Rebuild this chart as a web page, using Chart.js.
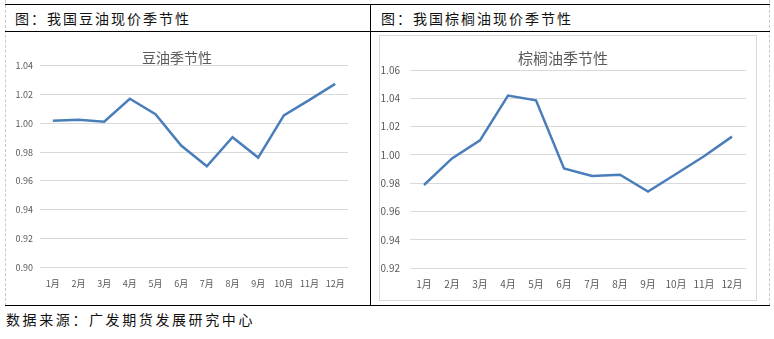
<!DOCTYPE html>
<html>
<head>
<meta charset="utf-8">
<script src="https://cdn.jsdelivr.net/npm/chart.js@4.4.1/dist/chart.umd.min.js"></script>
<style>
  body { margin: 0; background: #fff; width: 774px; height: 339px; position: relative; overflow: hidden;
         font-family: "Noto Sans CJK SC", sans-serif; }
  .abs { position: absolute; }
  .hline { position: absolute; height: 0; border-top: 1.5px solid #000; }
  .vline { position: absolute; width: 0; border-left: 1.5px solid #000; }
  .dash { position: absolute; width: 0; border-left: 1px dashed #c8c8c8; }
  .head { position: absolute; font-size: 14px; letter-spacing: 2px; color: #111; line-height: 14px; }
</style>
</head>
<body>
<div class="dash" style="left:5px; top:0; height:306px;"></div>
<div class="dash" style="left:769px; top:0; height:306px;"></div>
<div class="hline" style="left:5px; top:4px; width:765px;"></div>
<div class="hline" style="left:5px; top:31px; width:765px;"></div>
<div class="hline" style="left:5px; top:305px; width:765px;"></div>
<div class="vline" style="left:370px; top:4px; height:302px;"></div>

<div class="head" style="left:15px; top:11px;">图：我国豆油现价季节性</div>
<div class="head" style="left:381px; top:11px;">图：我国棕榈油现价季节性</div>
<div class="head" style="left:6px; top:312px; letter-spacing:2.6px;">数据来源：广发期货发展研究中心</div>

<div class="abs" style="left:6px; top:33px; width:363px; height:272px;">
  <canvas id="soyChart"></canvas>
</div>
<div class="abs" style="left:379px; top:35px; width:376px; height:264px; border:1px solid #d9d9d9;">
  <canvas id="palmChart"></canvas>
</div>

<script>
const months = ["1月", "2月", "3月", "4月", "5月", "6月", "7月", "8月", "9月", "10月", "11月", "12月"];
const soyValues = [1.0018, 1.0025, 1.0011, 1.0171, 1.0064, 0.9846, 0.9702, 0.9904, 0.9762, 1.0055, 1.0163, 1.0274];
const palmValues = [0.9787, 0.9975, 1.0103, 1.0419, 1.0386, 0.9903, 0.9850, 0.9860, 0.9740, 0.9865, 0.9990, 1.0129];
const soyRange = [0.90, 1.04];
const palmRange = [0.92, 1.06];

function seasonChart(id, title, values, range, opt) {
  return new Chart(document.getElementById(id), {
    type: 'line',
    data: {
      labels: months,
      datasets: [{
        data: values,
        borderColor: '#4a7ebb',
        borderWidth: 2.5,
        pointRadius: 0,
        tension: 0
      }]
    },
    options: {
      responsive: true,
      maintainAspectRatio: false,
      animation: false,
      layout: { padding: { left: 0, right: opt.right, top: 0, bottom: opt.bottom } },
      plugins: {
        legend: { display: false },
        tooltip: { enabled: false },
        title: {
          display: true,
          text: title,
          color: '#595959',
          font: { family: '"Noto Sans CJK SC"', size: opt.titleSize, weight: 'normal' },
          padding: { top: opt.titleTop, bottom: opt.titleBottom }
        }
      },
      scales: {
        x: {
          offset: true,
          grid: { display: false, drawTicks: false },
          border: { display: false },
          ticks: { color: '#595959', font: { family: '"Noto Sans CJK SC"', size: opt.tickSize }, padding: opt.xPad, maxRotation: 0, autoSkip: false }
        },
        y: {
          min: range[0],
          max: range[1],
          afterFit: s => { s.width = opt.yWidth; },
          grid: { color: '#d9d9d9', drawTicks: false },
          border: { display: false },
          ticks: {
            stepSize: 0.02,
            color: '#595959',
            font: { family: '"Noto Sans CJK SC"', size: opt.tickSize },
            padding: opt.yPad,
            callback: v => v.toFixed(2)
          }
        }
      }
    }
  });
}

seasonChart('soyChart', '豆油季节性', soyValues, soyRange,
  { right: 21, bottom: 5, titleSize: 14, titleTop: 16, titleBottom: 0, tickSize: 9, xPad: 11, yPad: 7, yWidth: 34 });
seasonChart('palmChart', '棕榈油季节性', palmValues, palmRange,
  { right: 10, bottom: 0, titleSize: 15, titleTop: 13, titleBottom: 3, tickSize: 10, xPad: 10, yPad: 10, yWidth: 30 });
</script>
</body>
</html>
